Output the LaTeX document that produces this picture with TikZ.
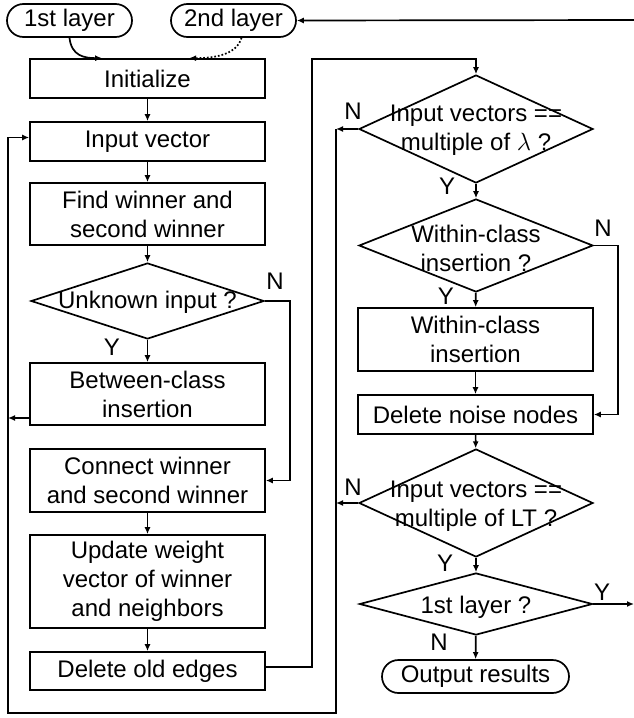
\documentclass[tikz,border=0pt]{standalone}
\usepackage{fontspec}
\setmainfont{Liberation Sans}
\usetikzlibrary{shapes.geometric,shapes.misc,arrows.meta,calc}
\begin{document}
\begin{tikzpicture}[x=1pt,y=-1pt,
  every node/.style={font=\fontsize{24}{29}\selectfont},
  box/.style={draw, line width=1.7pt, minimum width=235pt, align=center, inner sep=0pt},
  dec/.style={draw, diamond, line width=1.7pt, minimum width=234pt, minimum height=108pt, inner sep=0pt},
  term/.style={draw, rounded rectangle, line width=1.7pt, minimum height=33pt, inner sep=0pt},
  txt/.style={align=center, inner sep=0pt},
  lbl/.style={inner sep=0pt},
  arr/.style={line width=1.7pt, -{Latex[length=7pt,width=6pt]}},
]
\useasboundingbox (0,0) rectangle (634,718);
% terminators
\node[term, minimum width=125pt] (l1) at (69.5,20.5) {1st layer};
\node[term, minimum width=125pt] (l2) at (233.5,20.5) {2nd layer};
% left column
\node[box, minimum height=39pt] (init) at (147.5,78.5) {Initialize};
\node[box, minimum height=39pt] (iv) at (147.5,141.5) {Input vector};
\node[box, minimum height=62pt] (fw) at (147.5,214) {Find winner and\\second winner};
\node[dec, minimum width=233pt, minimum height=76pt] (unk) at (147.5,301) {};
\node[txt] (unkt) at (147.5,302) {Unknown input ?};
\node[box, minimum height=62pt] (bc) at (147.5,394) {Between-class\\insertion};
\node[box, minimum height=63pt] (cw) at (147.5,480.5) {Connect winner\\and second winner};
\node[box, minimum height=93pt] (uw) at (147.5,581.5) {Update weight\\vector of winner\\and neighbors};
\node[box, minimum height=38pt] (doe) at (147.5,671) {Delete old edges};
% right column
\node[dec] (dl) at (476,129) {};
\node[txt] (dlt) at (476,130) {Input vectors ==\\multiple of $\lambda$ ?};
\node[dec, minimum height=93pt] (dw) at (476,245.5) {};
\node[txt] (dwt) at (476,248) {Within-class\\insertion ?};
\node[box, minimum height=63pt] (wb) at (475.5,339.5) {Within-class\\insertion};
\node[box, minimum height=39pt] (dn) at (475.5,414.5) {Delete noise nodes};
\node[dec] (dT) at (476,503) {};
\node[txt] (dTt) at (476,506) {Input vectors ==\\multiple of LT ?};
\node[dec, minimum width=233pt, minimum height=62pt] (d1) at (476,604) {};
\node[txt] (d1t) at (476,607) {1st layer ?};
\node[term, minimum width=187pt] (out) at (475.5,676.5) {Output results};
% labels
\node[lbl] (n1) at (275,281) {N};
\node[lbl] (y1) at (112,347) {Y};
\node[lbl] (n2) at (353,111) {N};
\node[lbl] (y2) at (447,186) {Y};
\node[lbl] (n3) at (603,228) {N};
\node[lbl] (y3) at (446,296) {Y};
\node[lbl] (n4) at (353,487) {N};
\node[lbl] (y4) at (445,563) {Y};
\node[lbl] (y5) at (602,592) {Y};
\node[lbl] (n5) at (439,642) {N};
% coordinates
\coordinate (loopL) at (8,713);
\coordinate (loopR) at (336,713);
\coordinate (re) at (634,20);
\coordinate (vx) at (312,59);
% connectors
\draw[arr] (l1.south) .. controls +(2,18) and +(-18,0) .. ($(init.north west)+(73,0)$);
\draw[arr, dotted] ($(l2.south)+(8,0)$) .. controls +(-5,18) and +(22,0) .. ($(init.north west)+(160,0)$);
\draw[arr] (re) -- (l2.east);
\draw[arr] (init) -- (iv);
\draw[arr] (iv) -- (fw);
\draw[arr] (fw) -- (unk);
\draw[arr] (unk) -- (bc);
\draw[arr] (unk.east) -- ++(25,0) |- (cw.east);
\coordinate (bcout) at ($(bc.west)+(0,24)$);
\draw[arr] (bcout) -- (bcout -| loopL);
\draw[arr] (cw) -- (uw);
\draw[arr] (uw) -- (doe);
\draw[arr] ($(doe.east)+(0,-4)$) -| (vx) -| (dl.north);
\draw[arr] (dl.west) -- (dl.west -| loopR);
\draw[arr] (dT.west) -- (dT.west -| loopR);
\draw[arr] (dl.west -| loopR) -- (loopR) -- (loopL) |- ($(iv.west)+(0,-4)$);
\draw[arr] (dl) -- (dw);
\draw[arr] (dw) -- (wb);
\draw[arr] (dw.east) -- ++(24,0) |- (dn.east);
\draw[arr] (wb) -- (dn);
\draw[arr] (dn) -- (dT);
\draw[arr] (dT) -- (d1);
\draw[arr] (d1) -- (out);
\draw[arr] (d1.east) -- (d1.east -| re);
\end{tikzpicture}
\end{document}
